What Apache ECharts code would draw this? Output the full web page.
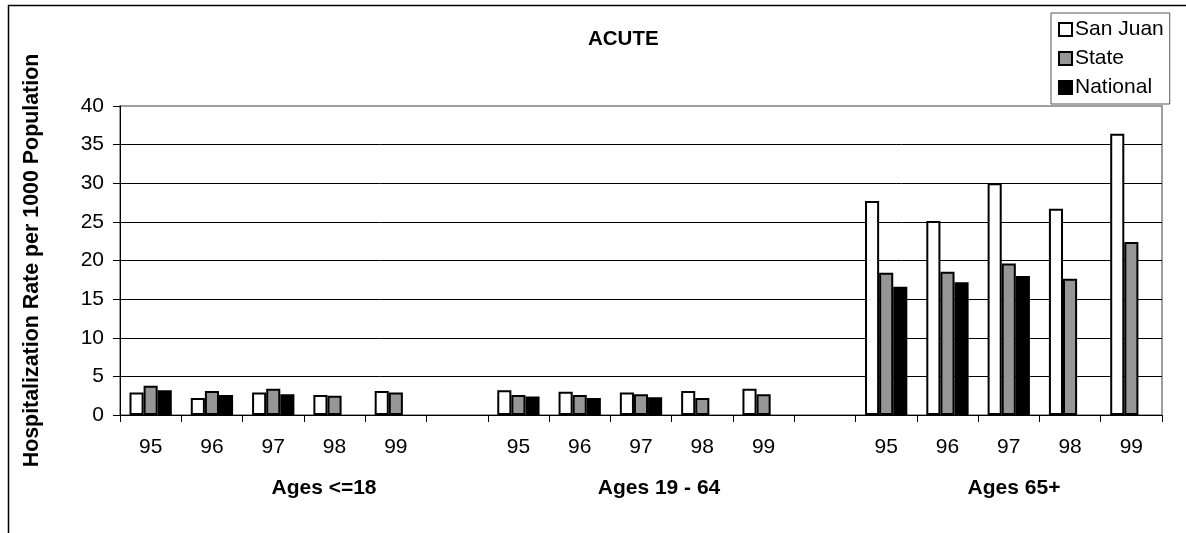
<!DOCTYPE html>
<html>
<head>
<meta charset="utf-8">
<script src="https://cdn.jsdelivr.net/npm/echarts@6/dist/echarts.min.js"></script>
<style>
html,body{margin:0;padding:0;background:#fff;}
#c{width:1186px;height:533px;}
</style>
</head>
<body>
<div id="c"></div>
<script>
var categories = ['95','96','97','98','99','','95','96','97','98','99','','95','96','97','98','99'];
var groupLabels = ['Ages <=18','Ages 19 - 64','Ages 65+'];
var sanJuan  = [2.9, 2.2, 2.9, 2.6, 3.1, null, 3.2, 3.0, 2.9, 3.1, 3.4, null, 27.7, 25.1, 30.0, 26.7, 36.4];
var state    = [3.8, 3.1, 3.4, 2.5, 2.9, null, 2.6, 2.6, 2.7, 2.2, 2.7, null, 18.4, 18.55, 19.6, 17.65, 22.4];
var national = [3.2, 2.6, 2.7, null, null, null, 2.4, 2.2, 2.3, null, null, null, 16.6, 17.2, 18.0, null, null];
var yTicks = [0,5,10,15,20,25,30,35,40];

var FONT = 'Liberation Sans, Arial, sans-serif';
var chart = echarts.init(document.getElementById('c'), null, {renderer:'canvas'});
var gl = [324, 659, 1014];
var option = {
  animation: false,
  backgroundColor: '#fff',
  textStyle: {fontFamily: FONT},
  title: {
    text: 'ACUTE', left: 583, top: 24,
    textStyle: {fontFamily: FONT, fontSize: 20.5, fontWeight: 'bold', color: '#000'}
  },
  legend: {
    orient: 'vertical', left: 1051, top: 13,
    padding: [6, 6, 6, 7],
    borderColor: '#555', borderWidth: 1,
    itemWidth: 13, itemHeight: 13, itemGap: 8,
    textStyle: {fontFamily: FONT, fontSize: 21, color: '#000', lineHeight: 20, padding: [0,0,0,-2]},
    data: [
      {name: 'San Juan', icon: 'rect', itemStyle: {color: '#fff', borderColor: '#000', borderWidth: 2}},
      {name: 'State', icon: 'rect', itemStyle: {color: '#969696', borderColor: '#000', borderWidth: 2}},
      {name: 'National', icon: 'rect', itemStyle: {color: '#000', borderColor: '#000', borderWidth: 2}}
    ]
  },
  grid: {
    left: 120, right: 24, top: 106, bottom: 118,
    show: true, borderColor: '#808080', borderWidth: 1.5, backgroundColor: 'transparent'
  },
  xAxis: {
    type: 'category',
    data: categories,
    axisLine: {lineStyle: {color: '#000', width: 1}},
    axisTick: {show: true, length: 7, interval: 0, lineStyle: {color: '#000'}},
    axisLabel: {interval: 0, margin: 22, fontFamily: FONT, fontSize: 21, color: '#000'},
    splitLine: {show: false}
  },
  yAxis: {
    type: 'value', min: 0, max: 40, interval: 5,
    name: 'Hospitalization Rate per 1000 Population',
    nameLocation: 'middle', nameGap: 77,
    nameTextStyle: {fontFamily: FONT, fontSize: 21.4, fontWeight: 'bold', color: '#000'},
    axisLine: {show: true, lineStyle: {color: '#000', width: 1}},
    axisTick: {show: true, length: 7, lineStyle: {color: '#000'}},
    axisLabel: {margin: 16, fontFamily: FONT, fontSize: 21, color: '#000',
      formatter: function(v){ return yTicks.indexOf(v) >= 0 ? String(v) : ''; }},
    splitLine: {show: true, showMaxLine: false, lineStyle: {color: '#000', width: 1}}
  },
  series: [
    {name: 'San Juan', type: 'bar', data: sanJuan, barGap: '0%', barCategoryGap: '31%',
     itemStyle: {color: '#fff', borderColor: '#000', borderWidth: 2}},
    {name: 'State', type: 'bar', data: state, barGap: '0%', barCategoryGap: '31%',
     itemStyle: {color: '#969696', borderColor: '#000', borderWidth: 2}},
    {name: 'National', type: 'bar', data: national, barGap: '0%', barCategoryGap: '31%',
     itemStyle: {color: '#000', borderColor: '#000', borderWidth: 2}}
  ],
  graphic: [
    {type: 'rect', left: 6, top: 3, silent: true,
     shape: {width: 1200, height: 529},
     style: {fill: 'none', stroke: '#000', lineWidth: 1.5}, z: -10},
    {type: 'text', x: gl[0], y: 488, style: {text: groupLabels[0], font: 'bold 21px ' + FONT, fill: '#000', align: 'center', verticalAlign: 'middle'}},
    {type: 'text', x: gl[1], y: 488, style: {text: groupLabels[1], font: 'bold 21px ' + FONT, fill: '#000', align: 'center', verticalAlign: 'middle'}},
    {type: 'text', x: gl[2], y: 488, style: {text: groupLabels[2], font: 'bold 21px ' + FONT, fill: '#000', align: 'center', verticalAlign: 'middle'}}
  ]
};
chart.setOption(option);
</script>
</body>
</html>
